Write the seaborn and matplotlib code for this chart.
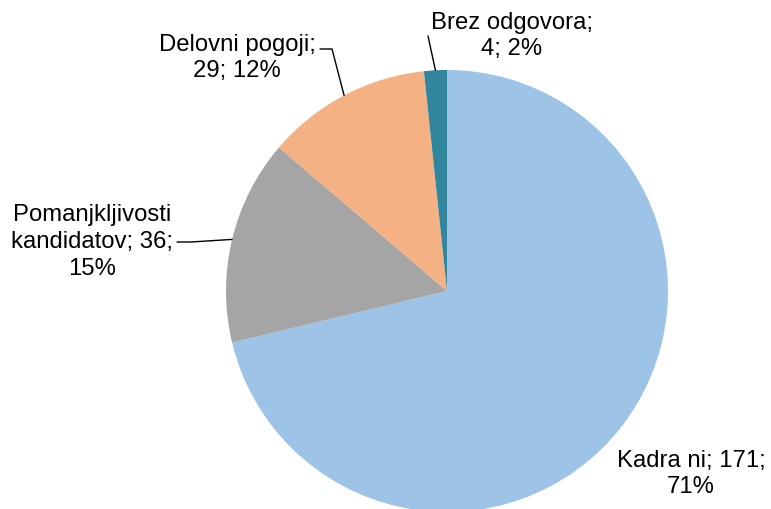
import numpy as np
import matplotlib
matplotlib.use("Agg")
import matplotlib.pyplot as plt
import seaborn as sns

categories = ["Kadra ni", "Pomanjkljivosti kandidatov", "Delovni pogoji", "Brez odgovora"]
counts = [171, 36, 29, 4]
colors = ["#9DC3E6", "#A5A5A5", "#F4B183", "#31859C"]
label_texts = [
    "Kadra ni; 171;\n71%",
    "Pomanjkljivosti\nkandidatov; 36;\n15%",
    "Delovni pogoji;\n29; 12%",
    "Brez odgovora;\n4; 2%",
]

sns.set_style("white")
plt.rcParams["font.family"] = ["Liberation Sans", "DejaVu Sans"]

W, H = 771, 510
fig = plt.figure(figsize=(W / 100, H / 100), dpi=100)
ax = fig.add_axes([0, 0, 1, 1])

cx, cy, r = 447, H - 292, 221
wedges, _ = ax.pie(
    counts,
    colors=colors,
    startangle=90,
    counterclock=False,
    center=(cx, cy),
    radius=r,
    wedgeprops={"linewidth": 0},
)
ax.set_xlim(0, W)
ax.set_ylim(0, H)
ax.set_aspect("equal")
ax.axis("off")


def edge_point(w):
    mid = np.deg2rad((w.theta1 + w.theta2) / 2)
    return cx + r * np.cos(mid), cy + r * np.sin(mid)


# label placement (pixel coords from top-left) and leader lines
label_pos = [(691, 474), (92, 242), (237, 58), (512, 36)]
leader_from = [None, (177, 243), (320, 50), (428, 37)]
leader_knee = [None, (191, 243), (332, 50), None]

for w, txt, (lx, ly), start, knee in zip(wedges, label_texts, label_pos, leader_from, leader_knee):
    ax.text(lx, H - ly, txt, ha="center", va="center", fontsize=17.2,
            linespacing=1.27, color="black")
    if start is None:
        continue
    ex, ey = edge_point(w)
    xs = [start[0]]
    ys = [H - start[1]]
    if knee is not None:
        xs.append(knee[0])
        ys.append(H - knee[1])
    xs.append(ex)
    ys.append(ey)
    ax.plot(xs, ys, color="black", lw=1)

fig.savefig("out.png", dpi=100)
